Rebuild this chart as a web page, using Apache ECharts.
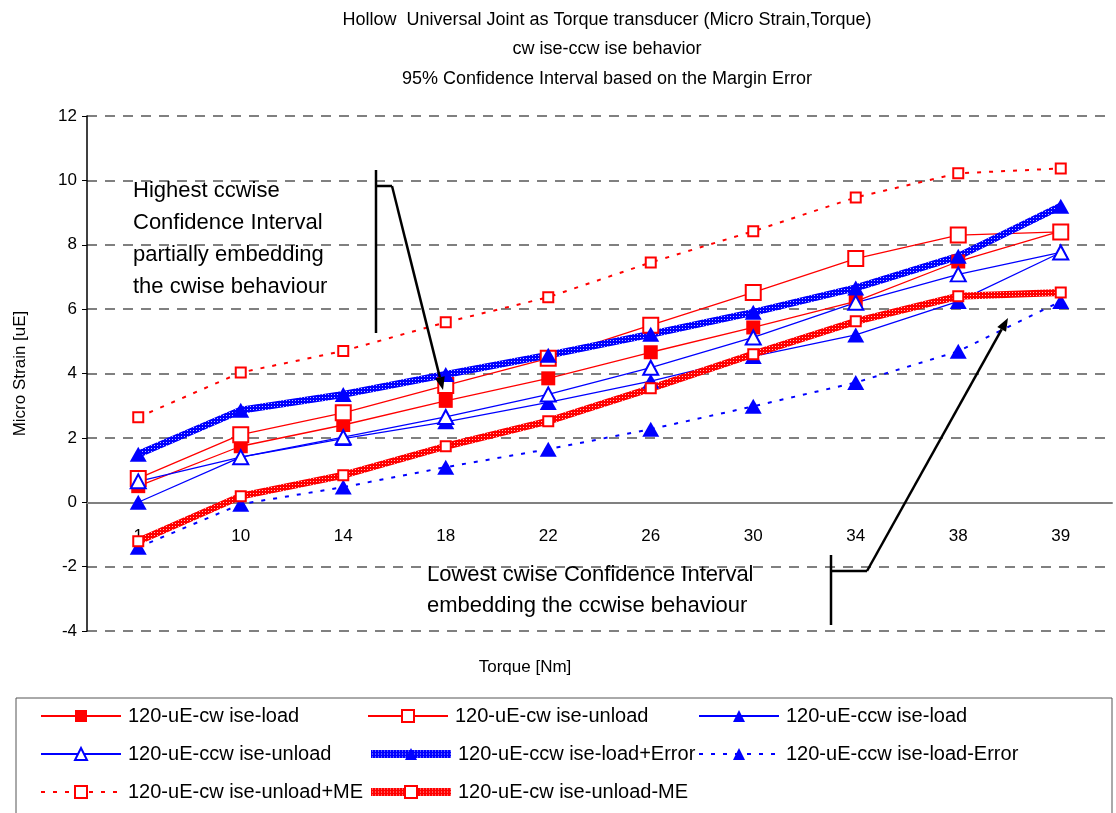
<!DOCTYPE html>
<html>
<head>
<meta charset="utf-8">
<script src="https://cdn.jsdelivr.net/npm/echarts@6/dist/echarts.min.js"></script>
<style>
  html, body { margin: 0; padding: 0; background: #fff; }
  #chart { width: 1116px; height: 813px; }
</style>
</head>
<body>
<div id="chart"></div>
<script>
var chart = echarts.init(document.getElementById('chart'));

// torque categories [Nm]
var torque = ['1', '10', '14', '18', '22', '26', '30', '34', '38', '39'];

// micro strain values [uE]
var cwLoad      = [0.50, 1.74, 2.40, 3.15, 3.85, 4.66, 5.43, 6.24, 7.48, 8.42];
var cwUnload    = [0.74, 2.10, 2.78, 3.63, 4.47, 5.50, 6.52, 7.57, 8.30, 8.40];
var ccwLoad     = [0.00, 1.40, 1.98, 2.50, 3.10, 3.76, 4.53, 5.20, 6.24, 7.76];
var ccwUnload   = [0.65, 1.40, 2.02, 2.65, 3.35, 4.18, 5.12, 6.20, 7.08, 7.76];
var ccwLoadPlus = [1.49, 2.86, 3.35, 3.97, 4.57, 5.22, 5.90, 6.66, 7.64, 9.20];
var ccwLoadMin  = [-1.40, -0.06, 0.47, 1.09, 1.65, 2.27, 2.98, 3.72, 4.69, 6.24];
var cwUnlPlus   = [2.64, 4.03, 4.70, 5.59, 6.37, 7.45, 8.42, 9.47, 10.22, 10.37];
var cwUnlMin    = [-1.21, 0.19, 0.84, 1.74, 2.52, 3.54, 4.60, 5.62, 6.40, 6.52];

var names = [
    '120-uE-cw ise-load', '120-uE-cw ise-unload', '120-uE-ccw ise-load',
    '120-uE-ccw ise-unload', '120-uE-ccw ise-load+Error', '120-uE-ccw ise-load-Error',
    '120-uE-cw ise-unload+ME', '120-uE-cw ise-unload-ME'
];

// hatched stroke like the thick error bands
function hatch(color) {
    var c = document.createElement('canvas');
    c.width = 3; c.height = 3;
    var ctx = c.getContext('2d');
    ctx.fillStyle = color;
    ctx.fillRect(0, 0, 3, 3);
    ctx.fillStyle = 'rgba(255,255,255,0.75)';
    ctx.fillRect(1, 1, 1, 1);
    return { image: c, repeat: 'repeat' };
}

var RED = '#ff0000', BLUE = '#0000ff';
var FONT = '"Liberation Sans", Arial, sans-serif';

function arrow(x1, y1, x2, y2) {
    var a = Math.atan2(y2 - y1, x2 - x1), L = 13, W = 5;
    var bx = x2 - L * Math.cos(a), by = y2 - L * Math.sin(a);
    return [{
        type: 'line', shape: { x1: x1, y1: y1, x2: bx, y2: by },
        style: { stroke: '#000', lineWidth: 2.5 }, z: 100
    }, {
        type: 'polygon',
        shape: { points: [[x2, y2],
            [bx + W * Math.sin(a), by - W * Math.cos(a)],
            [bx - W * Math.sin(a), by + W * Math.cos(a)]] },
        style: { fill: '#000' }, z: 100
    }];
}

var graphics = [
    { type: 'text', left: 133, top: 175, z: 100,
      style: { text: 'Highest ccwise\nConfidence Interval\npartially embedding\nthe cwise behaviour',
               font: '22px ' + FONT, fill: '#000', lineHeight: 32 } },
    { type: 'polyline', z: 100, shape: { points: [[376, 170], [376, 333]] }, style: { stroke: '#000', lineWidth: 2.5 } },
    { type: 'polyline', z: 100, shape: { points: [[376, 186], [392, 186]] }, style: { stroke: '#000', lineWidth: 2.5 } },
    { type: 'text', left: 427, top: 559, z: 100,
      style: { text: 'Lowest cwise Confidence Interval\nembedding the ccwise behaviour',
               font: '22px ' + FONT, fill: '#000', lineHeight: 31 } },
    { type: 'polyline', z: 100, shape: { points: [[831, 555], [831, 625]] }, style: { stroke: '#000', lineWidth: 2.5 } },
    { type: 'polyline', z: 100, shape: { points: [[831, 571], [867, 571]] }, style: { stroke: '#000', lineWidth: 2.5 } },
    { type: 'text', x: 525, y: 667, z: 100,
      style: { text: 'Torque [Nm]', font: '17px ' + FONT, fill: '#000', align: 'center', verticalAlign: 'middle' } },
    { type: 'rect', z: 0, shape: { x: 16, y: 698, width: 1096, height: 130 },
      style: { fill: 'none', stroke: '#555', lineWidth: 1 } }
];
graphics = graphics.concat(arrow(392, 186, 443, 390), arrow(867, 571, 1008, 318));

function mkSeries(name, data, color, opt) {
    return Object.assign({
        name: name, type: 'line', data: data, smooth: false,
        lineStyle: { color: color, width: 1.3 },
        itemStyle: { color: color },
        symbolSize: 14, emphasis: { disabled: true }
    }, opt);
}

var series = [
    mkSeries(names[0], cwLoad, RED, { symbol: 'rect', symbolSize: 14 }),
    mkSeries(names[1], cwUnload, RED, { symbol: 'rect', symbolSize: 15,
        itemStyle: { color: '#fff', borderColor: RED, borderWidth: 2 } }),
    mkSeries(names[2], ccwLoad, BLUE, { symbol: 'triangle', symbolSize: [17, 15] }),
    mkSeries(names[3], ccwUnload, BLUE, { symbol: 'triangle', symbolSize: [15, 14],
        itemStyle: { color: '#fff', borderColor: BLUE, borderWidth: 2 } }),
    mkSeries(names[4], ccwLoadPlus, BLUE, { symbol: 'triangle', symbolSize: [17, 15],
        lineStyle: { color: hatch(BLUE), width: 7 } }),
    mkSeries(names[5], ccwLoadMin, BLUE, { symbol: 'triangle', symbolSize: [17, 15],
        lineStyle: { color: BLUE, width: 2, type: [4, 8] } }),
    mkSeries(names[6], cwUnlPlus, RED, { symbol: 'rect', symbolSize: 10,
        itemStyle: { color: '#fff', borderColor: RED, borderWidth: 2 },
        lineStyle: { color: RED, width: 2, type: [4, 8] } }),
    mkSeries(names[7], cwUnlMin, RED, { symbol: 'rect', symbolSize: 10,
        itemStyle: { color: '#fff', borderColor: RED, borderWidth: 2 },
        lineStyle: { color: hatch(RED), width: 7 } })
];

// one legend per entry, laid out as the 3-column grid of the reference
var legendCols = [40, 367, 698];
var legendRows = [706, 744, 782];
var thickLegend = { 4: hatch(BLUE), 7: hatch(RED) };
var legends = names.map(function (n, i) {
    var item = { name: n };
    if (thickLegend[i]) {
        item.lineStyle = { width: 8, color: thickLegend[i] };
    }
    return {
        left: legendCols[i % 3], top: legendRows[Math.floor(i / 3)], padding: 0,
        itemWidth: 80, itemHeight: 15, data: [item], selectedMode: false,
        textStyle: { fontFamily: FONT, fontSize: 20, color: '#000', padding: [0, 0, 0, 2] }
    };
});

var option = {
    backgroundColor: '#fff',
    animation: false,
    title: {
        text: 'Hollow  Universal Joint as Torque transducer (Micro Strain,Torque)\ncw ise-ccw ise behavior\n95% Confidence Interval based on the Margin Error',
        left: 602, top: 0, textAlign: 'center',
        textStyle: { fontFamily: FONT, fontSize: 18, fontWeight: 'normal', color: '#000', lineHeight: 29.5 }
    },
    legend: legends,
    grid: { left: 87, right: 4, top: 116, bottom: 182, containLabel: false },
    xAxis: {
        type: 'category', data: torque, boundaryGap: true,
        offset: -128,
        axisLine: { onZero: false, lineStyle: { color: '#808080', width: 2 } },
        axisTick: { length: 6, lineStyle: { color: '#000', width: 1 } },
        axisLabel: { fontFamily: FONT, fontSize: 17, color: '#000', margin: 25 }
    },
    yAxis: {
        type: 'value', min: -4, max: 12, interval: 2,
        name: 'Micro Strain [uE]', nameLocation: 'middle', nameGap: 58,
        nameTextStyle: { fontFamily: FONT, fontSize: 17, color: '#000' },
        axisLine: { show: true, lineStyle: { color: '#000', width: 1.5 } },
        axisTick: { show: true, length: 5, lineStyle: { color: '#000' } },
        axisLabel: { fontFamily: FONT, fontSize: 17, color: '#000', margin: 10 },
        splitLine: { lineStyle: { color: '#808080', width: 2, type: [10, 8] } }
    },
    graphic: graphics,
    series: series
};

chart.setOption(option);
</script>
</body>
</html>
